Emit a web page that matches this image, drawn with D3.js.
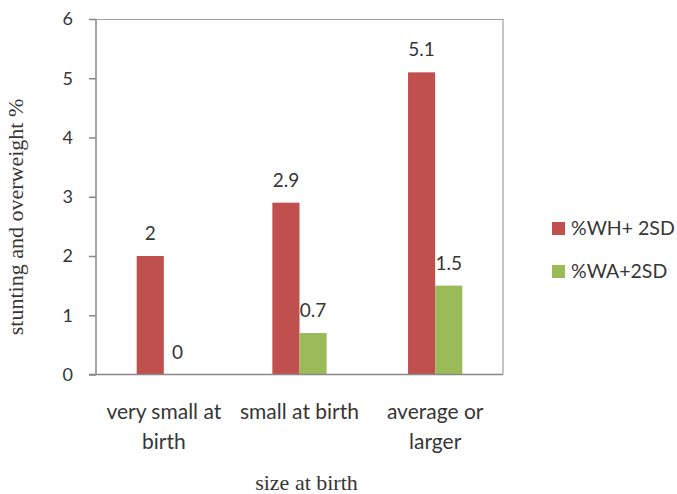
<!DOCTYPE html>
<html>
<head>
<meta charset="utf-8">
<script src="https://cdn.jsdelivr.net/npm/d3@7"></script>
<style>
  html, body { margin: 0; padding: 0; background: #fff; }
  svg { display: block; }
</style>
</head>
<body>
<script>
// ---- data ----
const categories = ["very small at birth", "small at birth", "average or larger"];
const categoryLines = [["very small at", "birth"], ["small at birth"], ["average or", "larger"]];
const seriesNames = ["%WH+ 2SD", "%WA+2SD"];
const whValues = [2, 2.9, 5.1];
const waValues = [0, 0.7, 1.5];
const yTicks = [0, 1, 2, 3, 4, 5, 6];
const seriesColors = ["#C0504D", "#9BBB59"];
const yTitle = "stunting and overweight %";
const xTitle = "size at birth";

const width = 677, height = 494;
const margin = { left: 96, top: 19, right: 174, bottom: 119.5 };
const W = width - margin.left - margin.right;
const H = height - margin.top - margin.bottom;

const svg = d3.select("body").append("svg")
  .attr("width", width).attr("height", height);

const g = svg.append("g").attr("transform", `translate(${margin.left},${margin.top})`);

const x0 = d3.scaleBand().domain(categories).range([0, W]).padding(0);
const x1 = d3.scaleBand().domain(seriesNames).range([0, x0.bandwidth()]).paddingInner(0).paddingOuter(1.5);
const y = d3.scaleLinear().domain([0, 6]).range([H, 0]);

const labelFont = "Lato, 'Open Sans', sans-serif";
const textColor = "#363636";

// plot border (top & right)
g.append("path")
  .attr("d", `M0,0.5H${W}V${H}`)
  .attr("fill", "none").attr("stroke", "#a0a0a0").attr("stroke-width", 1.2);

// bars
const rows = categories.map((c, i) => ({ cat: c, vals: [whValues[i], waValues[i]] }));
const grp = g.selectAll(".grp").data(rows).enter().append("g")
  .attr("transform", d => `translate(${x0(d.cat)},0)`);

grp.selectAll("rect").data(d => d.vals.map((v, j) => ({ s: seriesNames[j], v, j })))
  .enter().append("rect")
  .attr("x", d => x1(d.s))
  .attr("width", x1.bandwidth())
  .attr("y", d => y(d.v))
  .attr("height", d => H - y(d.v))
  .attr("fill", d => seriesColors[d.j]);

grp.selectAll("text.val").data(d => d.vals.map((v, j) => ({ s: seriesNames[j], v, j })))
  .enter().append("text").attr("class", "val")
  .attr("x", d => x1(d.s) + x1.bandwidth() / 2)
  .attr("y", d => y(d.v) - 16)
  .attr("text-anchor", "middle")
  .attr("font-family", labelFont).attr("font-size", 19)
  .attr("fill", textColor)
  .text(d => d.v);

// y axis
const yAxis = g.append("g").call(d3.axisLeft(y).tickValues(yTicks).tickSize(7).tickPadding(16).tickFormat(d3.format("d")));
yAxis.select(".domain").attr("stroke", "#888").attr("stroke-width", 1.5).attr("d", `M0,0V${H}`);
yAxis.selectAll(".tick line").attr("stroke", "#888").attr("stroke-width", 1.5);
yAxis.selectAll(".tick text").attr("font-family", labelFont).attr("font-size", 18).attr("fill", textColor);

// x axis line
const xAxis = g.append("g").attr("transform", `translate(0,${H})`)
  .call(d3.axisBottom(x0).tickSize(0).tickFormat(""));
xAxis.select(".domain").attr("stroke", "#888").attr("stroke-width", 1.5).attr("d", `M-7,0H${W}`);

// category labels
const cat = g.selectAll(".cat").data(categories).enter().append("text")
  .attr("class", "cat")
  .attr("text-anchor", "middle")
  .attr("font-family", labelFont).attr("font-size", 21)
  .attr("fill", textColor)
  .attr("transform", d => `translate(${x0(d) + x0.bandwidth() / 2},${H + 44})`);
cat.each(function(d, i) {
  const t = d3.select(this);
  categoryLines[i].forEach((ln, k) => {
    t.append("tspan").attr("x", 0).attr("y", k * 30).text(ln);
  });
});

// axis titles
svg.append("text")
  .attr("transform", `translate(23,217) rotate(-90)`)
  .attr("text-anchor", "middle")
  .attr("font-family", "'Liberation Serif', 'Times New Roman', serif")
  .attr("font-size", 22).attr("fill", textColor)
  .text(yTitle);

svg.append("text")
  .attr("x", margin.left + W / 2 + 7).attr("y", 490)
  .attr("text-anchor", "middle")
  .attr("font-family", "'Liberation Serif', 'Times New Roman', serif")
  .attr("font-size", 22).attr("fill", textColor)
  .text(xTitle);

// legend
const legend = svg.append("g").attr("transform", "translate(552,222)");
const li = legend.selectAll("g").data(seriesNames).enter().append("g")
  .attr("transform", (d, i) => `translate(0,${i * 43})`);
li.append("rect").attr("width", 13).attr("height", 13)
  .attr("fill", (d, i) => seriesColors[i]);
li.append("text").attr("x", 19).attr("y", 13)
  .attr("font-family", labelFont).attr("font-size", 19.5)
  .attr("fill", textColor)
  .text(d => d);
</script>
</body>
</html>
